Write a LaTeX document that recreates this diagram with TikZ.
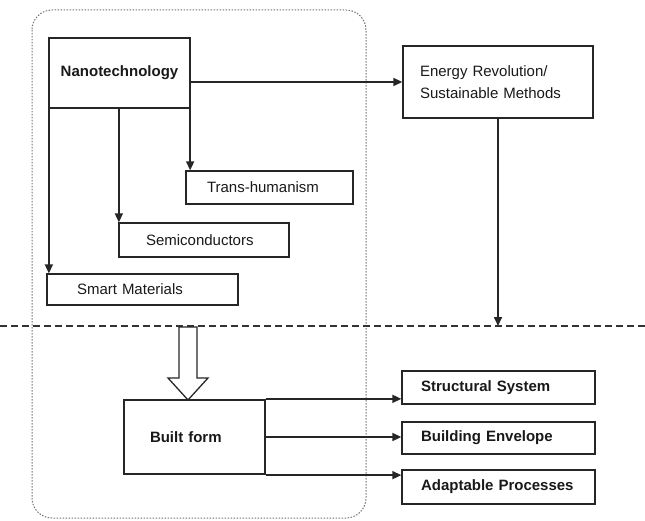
\documentclass[tikz,border=0pt]{standalone}
\usepackage{fontspec}
\setmainfont{Liberation Sans}
\usetikzlibrary{arrows.meta}
\begin{document}
\begin{tikzpicture}[x=1pt,y=-1pt,
  box/.style={draw=black!85, line width=1.3pt, rectangle, inner ysep=0pt,
    font=\fontsize{15}{22}\selectfont, text=black!90, align=left},
  arr/.style={draw=black!85, line width=1.6pt, -{Triangle[length=9pt,width=8pt]}},
  grp/.style={draw=black!55, line width=1pt, dash pattern=on 1.5pt off 1.5pt, rounded corners=20pt},
  sep/.style={draw=black!80, line width=1.8pt, dash pattern=on 7pt off 4pt},
  hollow/.style={draw=black!85, line width=1.3pt, fill=white}
]
\useasboundingbox (0,0) rectangle (645,521);

% grouping frame
\draw[grp] (32,10) rectangle (366,518);

% dashed separator
\coordinate (dashL) at (0,326);
\coordinate (dashR) at (645,326);
\draw[sep] (dashL) -- (dashR);

% nodes
\node[box, font=\bfseries\fontsize{15}{22}\selectfont, align=center, minimum width=141pt, minimum height=70pt, inner xsep=0pt] (nano) at (119.5,73) {Nanotechnology};
\node[box, minimum height=72pt, inner xsep=17pt, text width=156pt] (energy) at (498,82) {Energy Revolution/\\Sustainable Methods};
\node[box, minimum height=33pt, inner xsep=21pt, text width=125pt] (trans) at (269.5,187.5) {Trans-humanism};
\node[box, minimum height=34pt, inner xsep=27pt, text width=116pt] (semi) at (204,240) {Semiconductors};
\node[box, minimum height=31pt, inner xsep=30pt, text width=131pt] (smart) at (142.5,289.5) {Smart Materials};
\node[box, font=\bfseries\fontsize{15}{22}\selectfont, minimum height=74pt, inner xsep=26pt, text width=89pt] (built) at (194.5,437) {Built form};
\node[box, font=\bfseries\fontsize{15}{22}\selectfont, minimum height=33pt, inner xsep=19pt, text width=155pt] (struct) at (498.5,387.5) {Structural System};
\node[box, font=\bfseries\fontsize{15}{22}\selectfont, minimum height=32pt, inner xsep=19pt, text width=155pt] (env) at (498.5,438) {Building Envelope};
\node[box, font=\bfseries\fontsize{15}{22}\selectfont, minimum height=34pt, inner xsep=19pt, text width=155pt] (adapt) at (498.5,487) {Adaptable Processes};

% connectors
\draw[arr] (nano.east |- energy.west) -- (energy.west);
\draw[arr] ([xshift=0.5pt]nano.south west) -- ([xshift=0.5pt]nano.south west |- smart.north);
\draw[arr] ([xshift=0.5pt]nano.south -| semi.north west) -- ([xshift=0.5pt]semi.north west);
\draw[arr] ([xshift=-0.5pt]nano.south east) -- ([xshift=-0.5pt]nano.south east |- trans.north);
\draw[arr] (energy.south) -- (energy.south |- dashL);
\draw[arr] ([yshift=0.5pt]built.north east) -- ([yshift=0.5pt]built.north east -| struct.west);
\draw[arr] (built.east) -- (built.east -| env.west);
\draw[arr] ([yshift=-0.5pt]built.south east) -- ([yshift=-0.5pt]built.south east -| adapt.west);

% hollow arrow into built form
\draw[hollow] (179,327) -- (197,327) -- (197,378) -- (208,378) -- (188,400) -- (168,378) -- (179,378) -- cycle;
\end{tikzpicture}
\end{document}
